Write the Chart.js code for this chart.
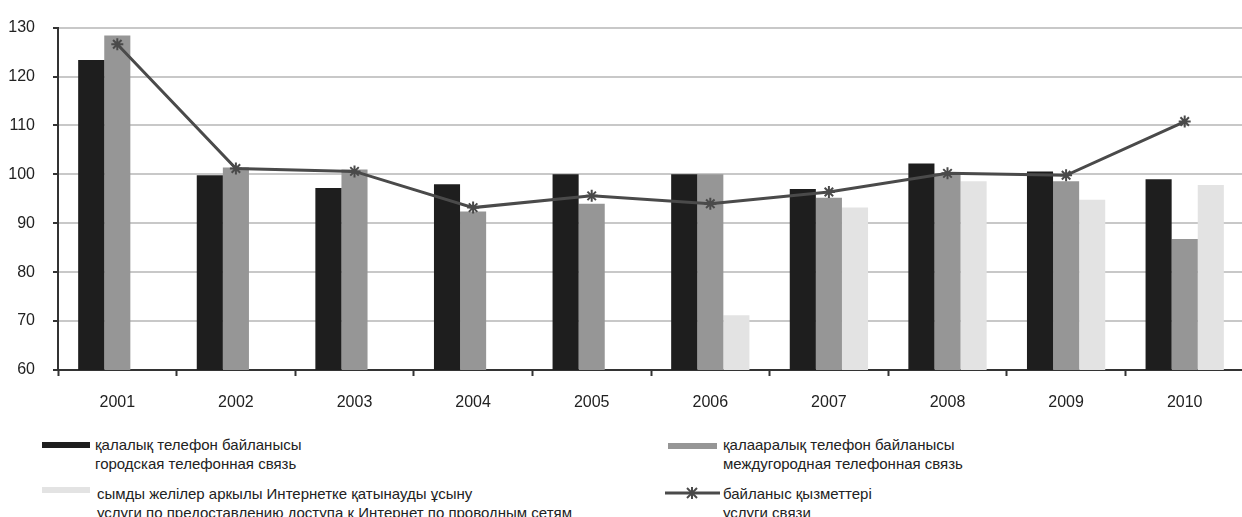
<!DOCTYPE html>
<html>
<head>
<meta charset="utf-8">
<script src="https://cdn.jsdelivr.net/npm/chart.js@4"></script>
<style>
  html, body { margin: 0; padding: 0; background: #fff; overflow: hidden; }
  body { width: 1242px; height: 517px; position: relative; font-family: "Liberation Sans", Arial, sans-serif; color: #222; }
  /* график в оригинале обрезан справа */
  #wrap { position: absolute; left: 0; top: 0; width: 1242px; height: 420px; overflow: hidden; }
  #inner { width: 1252px; height: 420px; }
  .lg { position: absolute; font-size: 15px; line-height: 19px; white-space: nowrap; }
  .sw { position: absolute; height: 6px; }
</style>
</head>
<body>
<div id="wrap"><div id="inner"><canvas id="chart" width="1252" height="420"></canvas></div></div>

<!-- легенда -->
<div class="sw" style="left:42px; top:442px; width:48px; background:#1e1e1e"></div>
<div class="lg" id="lg0" style="left:95px; top:435px"></div>
<div class="sw" style="left:668px; top:443px; width:49px; background:#969696"></div>
<div class="lg" id="lg1" style="left:723px; top:435px"></div>
<div class="sw" style="left:42px; top:487px; width:48px; background:#e3e3e3"></div>
<div class="lg" id="lg2" style="left:97px; top:484px"></div>
<svg style="position:absolute; left:660px; top:484px" width="64" height="20">
  <line x1="5" y1="9" x2="60" y2="9" stroke="#4a4a4a" stroke-width="3"/>
  <g stroke="#4a4a4a" stroke-width="2">
    <line x1="32" y1="3" x2="32" y2="15"/>
    <line x1="27" y1="4" x2="37" y2="14"/>
    <line x1="37" y1="4" x2="27" y2="14"/>
  </g>
</svg>
<div class="lg" id="lg3" style="left:723px; top:484px"></div>

<script>
// Годы
const years = ['2001', '2002', '2003', '2004', '2005', '2006', '2007', '2008', '2009', '2010'];

// Индексы, % к предыдущему году
const localPhone   = [123.4, 99.8, 97.2, 98.0, 100.0, 100.0, 97.0, 102.2, 100.6, 99.0];
const longDistance = [128.4, 101.4, 101.0, 92.4, 94.0, 100.0, 95.2, 100.2, 98.6, 86.8];
const internet     = [null, null, null, null, null, 71.2, 93.2, 98.6, 94.8, 97.8];
const commServices = [126.6, 101.2, 100.6, 93.2, 95.6, 94.0, 96.4, 100.2, 99.8, 110.8];

// Подписи легенды (каз. / рус.)
const legendLabels = [
  ['қалалық телефон байланысы', 'городская телефонная связь'],
  ['қалааралық телефон байланысы', 'междугородная телефонная связь'],
  ['сымды желілер аркылы Интернетке қатынауды ұсыну', 'услуги по предоставлению доступа к  Интернет по проводным сетям'],
  ['байланыс қызметтері', 'услуги связи']
];

const yTicks = [60, 70, 80, 90, 100, 110, 120, 130];

legendLabels.forEach((lines, i) => {
  document.getElementById('lg' + i).innerHTML = lines.join('<br>');
});

const axisColor = '#333';
const font = { family: '"Liberation Sans", Arial, sans-serif', size: 16 };

new Chart(document.getElementById('chart'), {
  data: {
    labels: years,
    datasets: [
      {
        type: 'line',
        label: legendLabels[3].join(' '),
        data: commServices,
        borderColor: '#4a4a4a',
        borderWidth: 3,
        pointStyle: 'star',
        pointRadius: 6,
        pointBorderWidth: 2,
        pointBorderColor: '#4a4a4a',
        pointBackgroundColor: '#4a4a4a',
        tension: 0,
        order: 0
      },
      {
        type: 'bar',
        label: legendLabels[0].join(' '),
        data: localPhone,
        backgroundColor: '#1e1e1e',
        categoryPercentage: 0.66,
        barPercentage: 1,
        order: 1
      },
      {
        type: 'bar',
        label: legendLabels[1].join(' '),
        data: longDistance,
        backgroundColor: '#969696',
        categoryPercentage: 0.66,
        barPercentage: 1,
        order: 1
      },
      {
        type: 'bar',
        label: legendLabels[2].join(' '),
        data: internet,
        backgroundColor: '#e3e3e3',
        categoryPercentage: 0.66,
        barPercentage: 1,
        order: 1
      }
    ]
  },
  options: {
    responsive: false,
    animation: false,
    layout: { padding: { top: 20, right: 0, bottom: 0, left: 0 } },
    plugins: {
      legend: { display: false },
      tooltip: { enabled: false }
    },
    scales: {
      x: {
        offset: true,
        grid: {
          display: true,
          offset: true,
          drawOnChartArea: false,
          drawTicks: true,
          tickLength: 6,
          tickColor: axisColor,
          tickWidth: 2
        },
        border: { color: axisColor, width: 2 },
        ticks: { font: font, color: '#222', padding: 17 },
        afterFit: (scale) => { scale.height = 50; }
      },
      y: {
        min: yTicks[0],
        max: yTicks[yTicks.length - 1],
        afterBuildTicks: (scale) => { scale.ticks = yTicks.map(v => ({ value: v })); },
        grid: {
          color: '#c8c8c8',
          lineWidth: 2,
          tickLength: 5,
          tickColor: axisColor,
          tickWidth: 2
        },
        border: { color: axisColor, width: 2 },
        ticks: { font: font, color: '#222', padding: 18 },
        afterFit: (scale) => { scale.width = 58; }
      }
    }
  }
});
</script>
</body>
</html>
